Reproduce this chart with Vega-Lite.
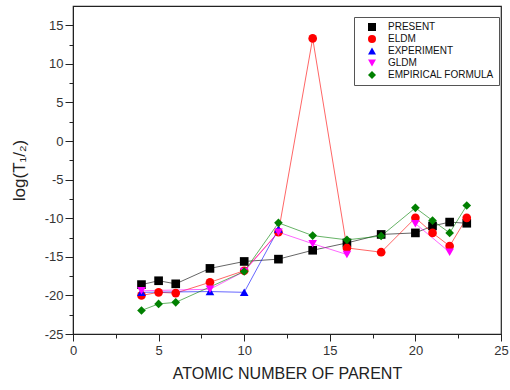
{
  "$schema": "https://vega.github.io/schema/vega-lite/v6.json",
  "width": 428,
  "height": 328,
  "autosize": "none",
  "padding": {"left": 73, "top": 6, "right": 9, "bottom": 56},
  "background": "white",
  "config": {
    "view": {"stroke": "#222", "strokeWidth": 1.2},
    "font": "Liberation Sans",
    "axis": {"grid": false, "domainColor": "#222", "tickColor": "#222", "labelColor": "#333", "titleColor": "#222", "labelFont": "Liberation Sans", "titleFont": "Liberation Sans", "titleFontWeight": "normal", "labelFontSize": 13, "titleFontSize": 16}
  },
  "data": {"values": [
    {"series": "PRESENT", "Z": 4, "logT": -18.6},
    {"series": "PRESENT", "Z": 5, "logT": -18.1},
    {"series": "PRESENT", "Z": 6, "logT": -18.5},
    {"series": "PRESENT", "Z": 8, "logT": -16.5},
    {"series": "PRESENT", "Z": 10, "logT": -15.6},
    {"series": "PRESENT", "Z": 12, "logT": -15.3},
    {"series": "PRESENT", "Z": 14, "logT": -14.15},
    {"series": "PRESENT", "Z": 16, "logT": -13.2},
    {"series": "PRESENT", "Z": 18, "logT": -12.1},
    {"series": "PRESENT", "Z": 20, "logT": -11.9},
    {"series": "PRESENT", "Z": 21, "logT": -11.0},
    {"series": "PRESENT", "Z": 22, "logT": -10.5},
    {"series": "PRESENT", "Z": 23, "logT": -10.65},
    {"series": "ELDM", "Z": 4, "logT": -20.0},
    {"series": "ELDM", "Z": 5, "logT": -19.6},
    {"series": "ELDM", "Z": 6, "logT": -19.7},
    {"series": "ELDM", "Z": 8, "logT": -18.3},
    {"series": "ELDM", "Z": 10, "logT": -16.8},
    {"series": "ELDM", "Z": 12, "logT": -11.8},
    {"series": "ELDM", "Z": 14, "logT": 13.3},
    {"series": "ELDM", "Z": 16, "logT": -13.85},
    {"series": "ELDM", "Z": 18, "logT": -14.4},
    {"series": "ELDM", "Z": 20, "logT": -9.95},
    {"series": "ELDM", "Z": 21, "logT": -11.9},
    {"series": "ELDM", "Z": 22, "logT": -13.6},
    {"series": "ELDM", "Z": 23, "logT": -9.95},
    {"series": "EXPERIMENT", "Z": 4, "logT": -19.6},
    {"series": "EXPERIMENT", "Z": 8, "logT": -19.5},
    {"series": "EXPERIMENT", "Z": 10, "logT": -19.6},
    {"series": "EXPERIMENT", "Z": 12, "logT": -11.4},
    {"series": "GLDM", "Z": 4, "logT": -19.4},
    {"series": "GLDM", "Z": 8, "logT": -19.2},
    {"series": "GLDM", "Z": 10, "logT": -16.9},
    {"series": "GLDM", "Z": 12, "logT": -11.8},
    {"series": "GLDM", "Z": 14, "logT": -13.3},
    {"series": "GLDM", "Z": 16, "logT": -14.7},
    {"series": "GLDM", "Z": 18, "logT": null},
    {"series": "GLDM", "Z": 20, "logT": -10.7},
    {"series": "GLDM", "Z": 22, "logT": -14.4},
    {"series": "EMPIRICAL FORMULA", "Z": 4, "logT": -21.95},
    {"series": "EMPIRICAL FORMULA", "Z": 5, "logT": -21.1},
    {"series": "EMPIRICAL FORMULA", "Z": 6, "logT": -20.9},
    {"series": "EMPIRICAL FORMULA", "Z": 10, "logT": -16.9},
    {"series": "EMPIRICAL FORMULA", "Z": 12, "logT": -10.6},
    {"series": "EMPIRICAL FORMULA", "Z": 14, "logT": -12.25},
    {"series": "EMPIRICAL FORMULA", "Z": 16, "logT": -12.8},
    {"series": "EMPIRICAL FORMULA", "Z": 18, "logT": -12.3},
    {"series": "EMPIRICAL FORMULA", "Z": 20, "logT": -8.65},
    {"series": "EMPIRICAL FORMULA", "Z": 21, "logT": -10.3},
    {"series": "EMPIRICAL FORMULA", "Z": 22, "logT": -11.9},
    {"series": "EMPIRICAL FORMULA", "Z": 23, "logT": -8.35}
  ]},
  "encoding": {
    "x": {"field": "Z", "type": "quantitative",
      "scale": {"domain": [0, 25], "nice": false, "zero": false},
      "axis": {"title": "ATOMIC  NUMBER OF PARENT", "values": [0, 2.5, 5, 7.5, 10, 12.5, 15, 17.5, 20, 22.5, 25],
        "labelExpr": "datum.value % 5 === 0 ? '' + datum.value : ''",
        "tickSize": {"condition": {"test": "datum.value % 5 === 0", "value": 7}, "value": 4},
        "labelPadding": 3, "titlePadding": 8, "labelFlush": false}},
    "y": {"field": "logT", "type": "quantitative",
      "scale": {"domain": [-25, 17.5], "nice": false, "zero": false},
      "axis": {"title": "log(T₁/₂)", "values": [-25, -22.5, -20, -17.5, -15, -12.5, -10, -7.5, -5, -2.5, 0, 2.5, 5, 7.5, 10, 12.5, 15],
        "labelExpr": "datum.value % 5 === 0 ? '' + datum.value : ''",
        "tickSize": {"condition": {"test": "datum.value % 5 === 0", "value": 8}, "value": 4},
        "labelPadding": 2, "titlePadding": 16, "labelFlush": false, "titleFontSize": 17}},
    "color": {"field": "series", "type": "nominal",
      "scale": {"domain": ["PRESENT", "ELDM", "EXPERIMENT", "GLDM", "EMPIRICAL FORMULA"],
        "range": ["#000000", "#ff0000", "#0000ff", "#ff00ff", "#008000"]},
      "legend": {"title": null, "orient": "none", "legendX": 281, "legendY": 11, "strokeColor": "#555", "padding": 5,
        "labelFontSize": 10, "labelFont": "Liberation Sans", "labelColor": "#111", "symbolSize": 64, "rowPadding": 2, "labelOffset": 11, "symbolOffset": 8, "symbolStrokeWidth": 0, "symbolOpacity": 1}}
  },
  "layer": [
    {"mark": {"type": "line", "strokeWidth": 1, "opacity": 0.6, "invalid": "break-paths-filter-domains"}},
    {"mark": {"type": "point", "filled": true, "size": 75, "opacity": 1},
      "encoding": {"shape": {"field": "series", "type": "nominal",
        "scale": {"domain": ["PRESENT", "ELDM", "EXPERIMENT", "GLDM", "EMPIRICAL FORMULA"],
          "range": ["square", "circle", "triangle-up", "triangle-down", "diamond"]},
        "legend": {"title": null}}}}
  ]
}
